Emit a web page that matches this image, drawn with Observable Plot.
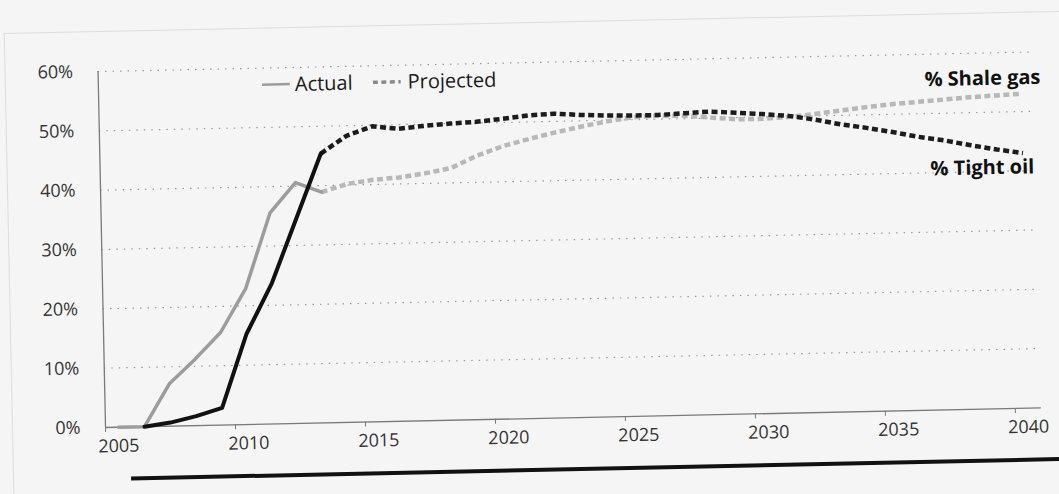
<!DOCTYPE html>
<html>
<head>
<meta charset="utf-8">
<script src="https://cdn.jsdelivr.net/npm/d3@7"></script>
<script src="https://cdn.jsdelivr.net/npm/@observablehq/plot@0.6"></script>
<style>
  html, body { margin: 0; padding: 0; background: #f5f5f5; overflow: hidden; }
  #page { position: relative; width: 1059px; height: 494px; overflow: hidden; }
  #fig {
    position: absolute; left: 0; top: 0; width: 1059px; height: 494px;
    transform: rotate(-1.2deg); transform-origin: 105px 427px;
    font-family: "Open Sans", sans-serif;
  }
  #frame { position: absolute; left: 12px; top: 31px; width: 1200px; height: 600px;
           border-left: 1px solid #dcdcdc; border-top: 1px solid #dcdcdc; }
  #chart { position: absolute; left: 0; top: 0; }
  #legend { position: absolute; left: 269px; top: 74px; display: flex; align-items: center;
            font-size: 20px; color: #1a1a1a; white-space: nowrap; }
  #legend svg { display: block; }
  #rule { position: absolute; left: 130px; top: 477px; width: 1000px; height: 3.5px; background: #111; }
</style>
</head>
<body>
<div id="page">
  <div id="fig">
    <div id="frame"></div>
    <div id="chart"></div>
    <div id="legend"></div>
    <div id="rule"></div>
  </div>
</div>
<script>
// Share of US production, in percent
const actualYearsGas = [2005, 2006, 2007, 2008, 2009, 2010, 2011, 2012, 2013];
const shaleGasActual = [0, 0, 7.2, 11.2, 15.6, 22.9, 35.6, 40.6, 38.9];

const actualYearsOil = [2006, 2007, 2008, 2009, 2010, 2011, 2012, 2013];
const tightOilActual = [0, 0.6, 1.6, 2.9, 15.3, 23.6, 34.5, 45.4];

const projectedYears = [2013, 2014, 2015, 2016, 2017, 2018, 2019, 2020, 2021, 2022,
  2023, 2024, 2025, 2026, 2027, 2028, 2029, 2030, 2031, 2032,
  2033, 2034, 2035, 2036, 2037, 2038, 2039, 2040];
const tightOilProjected = [45.4, 48.3, 49.8, 49.3, 49.7, 50.0, 50.2, 50.6, 51.1, 51.3,
  51.0, 50.8, 50.7, 50.7, 50.9, 51.1, 50.8, 50.5, 50.1, 49.4,
  48.5, 47.8, 47.0, 46.1, 45.4, 44.5, 43.7, 43.0];
const shaleGasProjected = [38.9, 40.2, 40.8, 41.1, 41.7, 42.5, 44.5, 46.0, 47.1, 48.1,
  49.0, 49.8, 50.4, 50.6, 50.5, 50.1, 49.7, 49.7, 49.9, 50.3,
  50.8, 51.3, 51.7, 52.0, 52.3, 52.6, 52.8, 53.0];

const yTicks = [0, 10, 20, 30, 40, 50, 60];
const xLabelYears = [2005, 2010, 2015, 2020, 2025, 2030, 2035, 2040];
const seriesLabels = ["% Shale gas", "% Tight oil"];
const legendLabels = ["Actual", "Projected"];

const rows = (years, values) => years.map((year, i) => ({year, value: values[i]}));
const gasActual = rows(actualYearsGas, shaleGasActual);
const oilActual = rows(actualYearsOil, tightOilActual);
const gasProj = rows(projectedYears, shaleGasProjected);
const oilProj = rows(projectedYears, tightOilProjected);

// years are categories: ticks sit between them, labels at their centres
const tickBounds = xLabelYears.map(y => y - 0.5);

const dash = "6 3.5";
const projStyle = {strokeWidth: 4.5, strokeDasharray: dash, strokeLinecap: "butt"};
const chart = Plot.plot({
  width: 1059,
  height: 494,
  marginLeft: 105,
  marginRight: 18,
  marginTop: 71,
  marginBottom: 67,
  style: {fontFamily: "Open Sans, sans-serif", fontSize: "18px", color: "#333", background: "transparent", overflow: "visible"},
  x: {domain: [2004.5, 2040.5]},
  y: {domain: [0, 60]},
  marks: [
    Plot.ruleY(yTicks.filter(d => d > 0), {stroke: "#9a9a9a", strokeDasharray: "1.5,6", strokeWidth: 1.2}),
    Plot.ruleY([0], {stroke: "#7a7a7a", strokeWidth: 1.3}),
    Plot.ruleX([2004.5], {y1: 0, y2: 60, stroke: "#7a7a7a", strokeWidth: 1.3}),
    Plot.axisY({ticks: yTicks, tickSize: 0, tickPadding: 25, tickFormat: d => d + "%", label: null, fontSize: 18}),
    Plot.axisX({ticks: tickBounds, tickSize: 5, tickFormat: () => "", label: null, stroke: "#7a7a7a"}),
    Plot.axisX({ticks: xLabelYears, tickSize: 0, tickPadding: 12, tickFormat: d => String(d), label: null, fontSize: 18}),
    Plot.line(gasProj, {x: "year", y: "value", stroke: "#b8b8b8", ...projStyle}),
    Plot.line(gasActual, {x: "year", y: "value", stroke: "#9c9c9c", strokeWidth: 3.5}),
    Plot.line(oilProj, {x: "year", y: "value", stroke: "#1c1c1c", ...projStyle}),
    Plot.line(oilActual, {x: "year", y: "value", stroke: "#111", strokeWidth: 4}),
    Plot.text([gasProj[gasProj.length - 1]], {x: "year", y: "value", text: () => seriesLabels[0],
      textAnchor: "end", dx: 19, dy: -16, fontWeight: "bold", fontSize: 20, fill: "#111"}),
    Plot.text([oilProj[oilProj.length - 1]], {x: "year", y: "value", text: () => seriesLabels[1],
      textAnchor: "end", dx: 11, dy: 14, fontWeight: "bold", fontSize: 20, fill: "#111"})
  ]
});
document.getElementById("chart").append(chart);

// legend: solid swatch for actual, dashed for projected
const legend = d3.select("#legend");
const swatch = (dashed) => {
  const s = legend.append("svg").attr("width", 28).attr("height", 6);
  s.append("line").attr("x1", 0).attr("x2", 28).attr("y1", 3).attr("y2", 3)
    .attr("stroke", dashed ? "#8a8a8a" : "#9c9c9c").attr("stroke-width", dashed ? 3.5 : 2.5)
    .attr("stroke-dasharray", dashed ? "5 3.5" : null);
};
swatch(false);
legend.append("span").style("margin-left", "5px").style("margin-right", "20px").text(legendLabels[0]);
swatch(true);
legend.append("span").style("margin-left", "7px").text(legendLabels[1]);
</script>
</body>
</html>
